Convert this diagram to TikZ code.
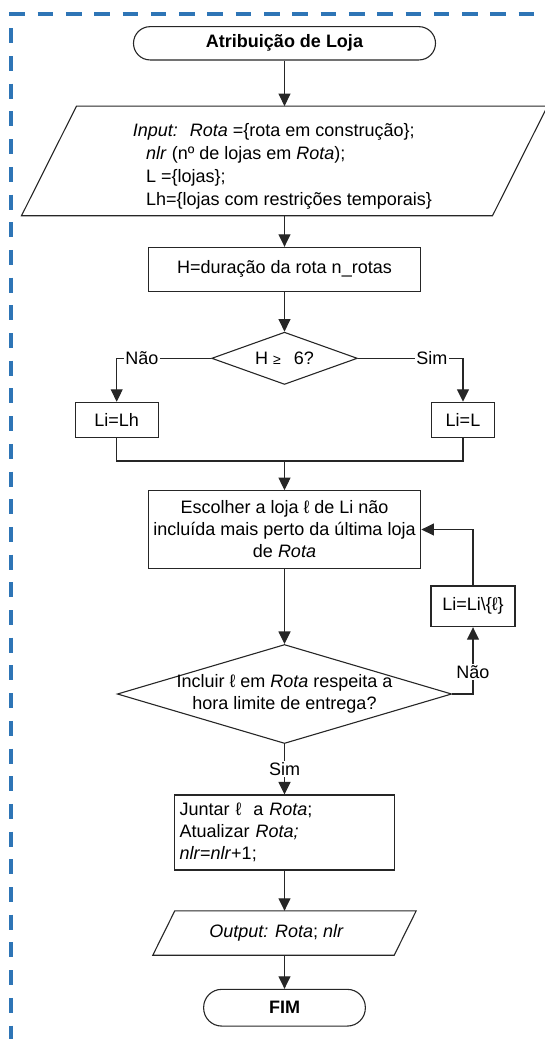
\documentclass[tikz,border=0pt]{standalone}
\usepackage{fontspec}
\setmainfont{Liberation Sans}
\usetikzlibrary{arrows.meta,shapes.geometric,calc}
\definecolor{bordblue}{RGB}{46,117,182}
\begin{document}
\begin{tikzpicture}[x=1pt,y=-1pt,
  every node/.style={font=\fontsize{18pt}{22pt}\selectfont},
  ln/.style={draw=black!85, line width=1.1pt},
  arr/.style={ln, -{Triangle[length=12.5pt,width=12pt]}},
  box/.style={ln, rectangle, inner sep=0pt, align=center},
  term/.style={ln, rectangle, inner sep=0pt, font=\fontsize{18pt}{22pt}\selectfont\bfseries},
  dec/.style={ln, diamond, inner sep=0pt},
  ghost/.style={rectangle, inner sep=0pt},
  lab/.style={fill=white, inner sep=1.5pt},
  border/.style={draw=bordblue, line width=3.3pt}
]
\useasboundingbox (0,0) rectangle (545,1039);

% dashed frame
\draw[border, dash pattern=on 15.6pt off 12.7pt] (9.3,14) -- (545,14);
\draw[border, dash pattern=on 15pt off 12.7pt] (11,28.3) -- (11,1039);

% nodes
\node[term, rounded corners=16.6pt, minimum width=302pt, minimum height=33.3pt] (start) at (284.5,43.3) {Atribuição de Loja};

\node[ghost, minimum width=470.6pt, minimum height=109.2pt] (inp) at (284.5,160.9) {};
\draw[ln] ($(inp.north west)+(27.5,0)$) -- ($(inp.north east)+(27.5,0)$) -- ($(inp.south east)+(-27.5,0)$) -- ($(inp.south west)+(-27.5,0)$) -- cycle;
\node[anchor=north west, inner sep=0pt, align=left, font=\fontsize{18pt}{22.8pt}\selectfont] (inptxt) at (132.7,123.6)
  {\textit{Input:}\hspace{12pt}\textit{Rota} =\{rota em construção\};\\
   \hspace*{13.3pt}\textit{nlr} (nº de lojas em \textit{Rota});\\
   \hspace*{13.3pt}L =\{lojas\};\\
   \hspace*{13.3pt}Lh=\{lojas com restrições temporais\}};

\node[box, minimum width=272.4pt, minimum height=43.7pt] (proc) at (284.5,269.2) {H=duração da rota n\_rotas};

\node[dec, minimum width=145.7pt, minimum height=52.3pt] (d1) at (284.5,358.3) {};
\node[inner sep=0pt] (d1txt) at (d1.center) {H {\fontsize{14pt}{14pt}\selectfont ≥}\hspace{13pt}6?};

\node[box, minimum width=83.3pt, minimum height=35.4pt] (lh) at (116.7,420) {Li=Lh};
\node[box, minimum width=62.6pt, minimum height=35.4pt] (li) at (463,420) {Li=L};
\coordinate (m) at (284.5,461);

\node[box, minimum width=272.7pt, minimum height=77.6pt] (esc) at (284.5,529.5)
  {Escolher a loja ℓ de Li não\\ incluída mais perto da última loja\\ de \textit{Rota}};

\node[box, minimum width=84pt, minimum height=40.7pt] (lil) at (473,606.3) {Li=Li\textbackslash\{ℓ\}};

\node[dec, minimum width=334.4pt, minimum height=99pt] (d2) at (284.5,694) {};
\node[inner sep=0pt, align=center] (d2txt) at (d2.center) {Incluir ℓ em \textit{Rota} respeita a\\ hora limite de entrega?};

\node[box, text width=210pt, inner sep=5pt, minimum height=75pt, align=left] (jun) at (284.5,832.5)
  {Juntar ℓ\ \ a \textit{Rota};\\ Atualizar \textit{Rota;}\\ \textit{nlr}=\textit{nlr}+1;};

\node[ghost, minimum width=241pt, minimum height=44pt] (out) at (284.5,933) {\textit{Output:} \textit{Rota}; \textit{nlr}\kern16pt};
\draw[ln] ($(out.north west)+(11,0)$) -- ($(out.north east)+(11,0)$) -- ($(out.south east)+(-11,0)$) -- ($(out.south west)+(-11,0)$) -- cycle;

\node[term, rounded corners=18pt, minimum width=161.7pt, minimum height=36.7pt] (fim) at (284.5,1007.7) {FIM};

% connectors
\draw[arr] (start.south) -- (inp.north);
\draw[arr] (inp.south) -- (proc.north);
\draw[arr] (proc.south) -- (d1.north);
\draw[arr] (d1.west) -| node[lab, pos=0.367] {Não} (lh.north);
\draw[arr] (d1.east) -| node[lab, pos=0.352] {Sim} (li.north);
\draw[ln] (lh.south) |- (m) -| (li.south);
\draw[arr] (m) -- (esc.north);
\draw[arr] (esc.south) -- (d2.north);
\draw[arr] (d2.east) -| node[lab, pos=0.666] {Não} (lil.south);
\draw[arr] (lil.north) |- (esc.east);
\draw[arr] (d2.south) -- node[lab] {Sim} (jun.north);
\draw[arr] (jun.south) -- (out.north);
\draw[arr] (out.south) -- (fim.north);
\end{tikzpicture}
\end{document}
